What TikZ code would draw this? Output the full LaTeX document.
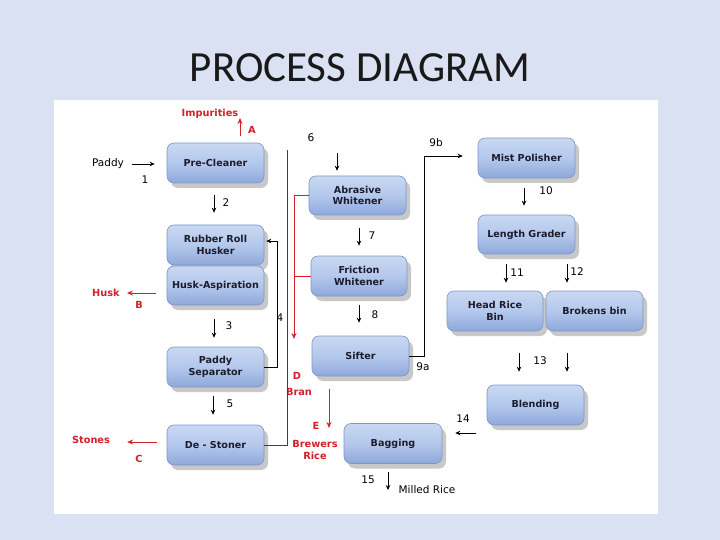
\documentclass[tikz,border=0pt]{standalone}
\usepackage{fontspec}
\setmainfont{DejaVu Sans}
\newfontfamily\titlefont{Carlito}
\usetikzlibrary{arrows.meta,shadows,calc}
\definecolor{bgblue}{HTML}{D9E1F2}
\definecolor{boxedge}{HTML}{7D97C8}
\definecolor{boxtop}{HTML}{C9D8F2}
\definecolor{boxmid}{HTML}{B4C8EC}
\definecolor{boxbot}{HTML}{8FA8DA}
\definecolor{lblred}{HTML}{D4202A}
\definecolor{txtdark}{HTML}{1C1C2C}
\tikzset{
  procbox/.style={rectangle, rounded corners=7pt, draw=boxedge, line width=0.6pt,
    top color=boxtop, bottom color=boxbot, middle color=boxmid,
    minimum width=97pt, minimum height=40pt, inner sep=1pt, align=center,
    font=\bfseries\fontsize{9.6}{11.5}\selectfont, text=txtdark,
    drop shadow={shadow xshift=4pt, shadow yshift=-5pt, opacity=0.3, fill=black!70}},
  lbl/.style={font=\fontsize{10.5}{11}\selectfont, text=black, inner sep=1pt},
  rlbl/.style={font=\bfseries\fontsize{9.8}{12}\selectfont, text=lblred, inner sep=1pt, align=center},
  arr/.style={-{Stealth[length=5pt,width=4.5pt]}, line width=0.8pt, black},
  rarr/.style={-{Stealth[length=6pt,width=5pt]}, line width=0.9pt, lblred},
  thinline/.style={line width=0.6pt, black!75}
}
\begin{document}
\begin{tikzpicture}[x=1pt,y=-1pt]
\useasboundingbox (0,0) rectangle (720,540);
\fill[bgblue] (0,0) rectangle (720,540);
\fill[white] (54,100) rectangle (658,514);
\node[font=\titlefont\fontsize{43}{45}\selectfont, text=black!90] (title) at (360,68) {PROCESS DIAGRAM};

% boxes
\node[procbox] (pre) at (215.5,163) {Pre-Cleaner};
\node[procbox] (rrh) at (215.5,245) {Rubber Roll\\Husker};
\node[procbox, minimum height=39pt] (husk) at (215.5,285.5) {Husk-Aspiration};
\node[procbox] (psep) at (215.5,367) {Paddy\\Separator};
\node[procbox] (dest) at (215.5,445) {De - Stoner};
\node[procbox, minimum height=39pt] (abr) at (357.5,195.5) {Abrasive\\Whitener};
\node[procbox, minimum width=96pt] (fri) at (359,276) {Friction\\Whitener};
\node[procbox] (sift) at (360.5,356) {Sifter};
\node[procbox, minimum width=98pt] (bag) at (393,443.5) {Bagging};
\node[procbox] (mist) at (526.5,158) {Mist Polisher};
\node[procbox, minimum height=39pt] (lg) at (526.5,234.5) {Length Grader};
\node[procbox, minimum width=96pt] (hrb) at (495,311) {Head Rice\\Bin};
\node[procbox] (brk) at (594.5,311) {Brokens bin};
\node[procbox] (blend) at (535.5,405) {Blending};

% labels
\node[lbl] (paddy) at (108,164) {Paddy};
\node[lbl] (n1) at (145,180) {1};
\node[rlbl] (imp) at (210,114) {Impurities};
\node[rlbl] (la) at (252,130) {A};
\node[lbl] (n2) at (226,203) {2};
\node[rlbl] (huskl) at (106,293) {Husk};
\node[rlbl] (lb) at (139,305) {B};
\node[lbl] (n3) at (229,326) {3};
\node[lbl] (n4) at (280,318) {4};
\node[lbl] (n5) at (230,404) {5};
\node[rlbl] (stones) at (91,440) {Stones};
\node[rlbl] (lc) at (139,459) {C};
\node[lbl] (n6) at (311,138) {6};
\node[lbl] (n7) at (372,236) {7};
\node[lbl] (n8) at (375,315) {8};
\node[rlbl] (ld) at (297,376) {D};
\node[rlbl] (bran) at (299,392) {Bran};
\node[rlbl] (le) at (316,426) {E};
\node[rlbl] (brew) at (315,450) {Brewers\\Rice};
\node[lbl] (n9b) at (436,143) {9b};
\node[lbl] (n9a) at (423,367) {9a};
\node[lbl] (n10) at (546,191) {10};
\node[lbl] (n11) at (517,273) {11};
\node[lbl] (n12) at (577,272) {12};
\node[lbl] (n13) at (540,361) {13};
\node[lbl] (n14) at (463,419) {14};
\node[lbl] (n15) at (368,480) {15};
\node[lbl] (milled) at (427,490) {Milled Rice};

% free ends
\coordinate (cA) at (240,118);
\coordinate (c6) at (337,153);
\coordinate (cD) at (294,339);
\coordinate (cE) at (329,428);
\coordinate (c9) at (424,156);
\coordinate (c14) at (476,433);
\coordinate (c15) at (388,490);
\coordinate (cTop) at (287,150);

% connectors
\draw[arr, shorten <=7pt, shorten >=12pt] (paddy.east) -- (paddy.east -| pre.west);
\draw[rarr, shorten <=7pt] ([xshift=24.5pt]pre.north) -- (cA);
\draw[arr, shorten <=12pt, shorten >=12pt] ([xshift=-1.5pt]pre.south) -- ([xshift=-1.5pt]rrh.north);
\draw[rarr, shorten <=11pt, shorten >=6pt] (huskl.east -| husk.west) -- (huskl.east);
\draw[arr, shorten <=14pt, shorten >=9pt] ([xshift=-1.5pt]husk.south) -- ([xshift=-1.5pt]psep.north);
\draw[arr, shorten >=2pt] (psep.east) -- ++(13,0) |- ([yshift=4pt]rrh.east);
\draw[arr, shorten <=9pt, shorten >=10pt] ([xshift=-2.5pt]psep.south) -- ([xshift=-2.5pt]dest.north);
\draw[rarr, shorten <=10pt, shorten >=16pt] ([yshift=-2pt]stones.east -| dest.west) -- ([yshift=-2pt]stones.east);
\draw[thinline] (dest.east) -- (dest.east -| cTop) -- (cTop);
\draw[arr, line width=0.6pt, shorten >=5pt] (c6) -- (c6 |- abr.north);
\draw[arr, shorten <=13pt, shorten >=10pt] ([xshift=1.5pt]abr.south) -- ([xshift=0pt]fri.north);
\draw[arr, shorten <=9pt, shorten >=13pt] (fri.south) -- ([xshift=-1.5pt]sift.north);
\draw[rarr, line width=0.8pt] (abr.west) -| (cD);
\draw[lblred, line width=0.8pt] (fri.west) -- (fri.west -| cD);
\draw[rarr, shorten <=13pt] (cE |- sift.south) -- (cE);
\draw[arr, line width=0.7pt, shorten >=15pt] (sift.east) -| (c9) -- (c9 -| mist.west);
\draw[arr, shorten <=10pt, shorten >=9pt] ([xshift=-2.5pt]mist.south) -- ([xshift=-2.5pt]lg.north);
\draw[arr, shorten <=10pt, shorten >=8pt] ([xshift=-20.5pt]lg.south) -- ([xshift=11pt]hrb.north);
\draw[arr, shorten <=10pt, shorten >=8pt] ([xshift=40.5pt]lg.south) -- ([xshift=-27.5pt]brk.north);
\draw[arr, shorten <=22pt, shorten >=13pt] ([xshift=24pt]hrb.south) -- ([xshift=-16.5pt]blend.north);
\draw[arr, shorten <=22pt, shorten >=13pt] ([xshift=-27.5pt]brk.south) -- ([xshift=31.5pt]blend.north);
\draw[arr, shorten >=13pt] (c14) -- (c14 -| bag.east);
\draw[arr, shorten <=8pt] ([xshift=-5pt]bag.south) -- (c15);
\end{tikzpicture}
\end{document}
